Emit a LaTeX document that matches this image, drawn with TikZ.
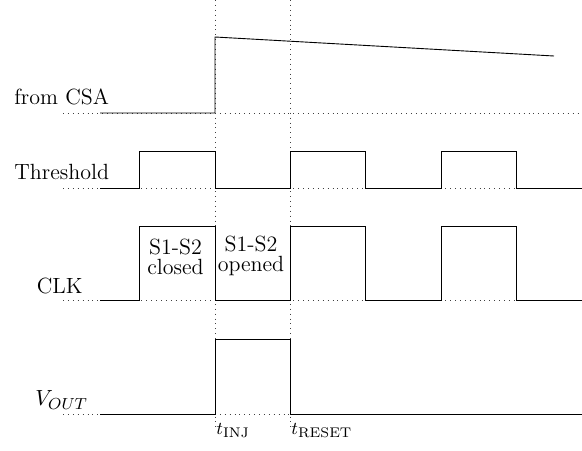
\documentclass[tikz,border=0pt]{standalone}
\begin{document}
\begin{tikzpicture}[x=0.5pt,y=-0.5pt,
  sig/.style={line width=0.45pt,black},
  guide/.style={dotted,line width=0.45pt,black!75},
  lbl/.style={font=\fontsize{11}{13}\selectfont,inner sep=0pt},
  tlbl/.style={font=\fontsize{9.5}{11}\selectfont,inner sep=0pt},
  sw/.style={font=\fontsize{11}{10}\selectfont,inner sep=0pt,align=center}]
\useasboundingbox (0,0) rectangle (582,450);
% time markers
\draw[guide] (215,0) -- (215,427);
\draw[guide] (290,0) -- (290,427);
% baselines
\foreach \yb in {113,188,300,414} \draw[guide] (63,\yb) -- (582,\yb);
% from CSA
\draw[sig] (100,113) -- (215,113) -- (215,37) -- (554,56);
% Threshold
\draw[sig] (100,188) -- (139,188) -- (139,151) -- (215,151) -- (215,188) -- (290,188)
  -- (290,151) -- (365,151) -- (365,188) -- (441,188) -- (441,151) -- (516,151)
  -- (516,188) -- (582,188);
% CLK
\draw[sig] (100,300) -- (139,300) -- (139,226) -- (215,226) -- (215,300) -- (290,300)
  -- (290,226) -- (365,226) -- (365,300) -- (441,300) -- (441,226) -- (516,226)
  -- (516,300) -- (582,300);
% V_OUT
\draw[sig] (100,414) -- (215,414) -- (215,339) -- (290,339) -- (290,414) -- (582,414);
% labels
\node[lbl,anchor=west] (csa) at (14,97) {from CSA};
\node[lbl,anchor=west] (thr) at (14,172) {Threshold};
\node[lbl,anchor=east] (clk) at (83,286) {CLK};
\node[lbl,anchor=west] (vout) at (35,400) {$V_{OUT}$};
\node[sw] (closed) at (175.5,257) {S1-S2\\closed};
\node[sw] (opened) at (251,256) {S1-S2\\opened};
\node[tlbl,anchor=base west] (tinj) at (216,434) {$t_{\mathrm{INJ}}$};
\node[tlbl,anchor=base west] (trst) at (291,434) {$t_{\mathrm{RESET}}$};
\end{tikzpicture}
\end{document}
